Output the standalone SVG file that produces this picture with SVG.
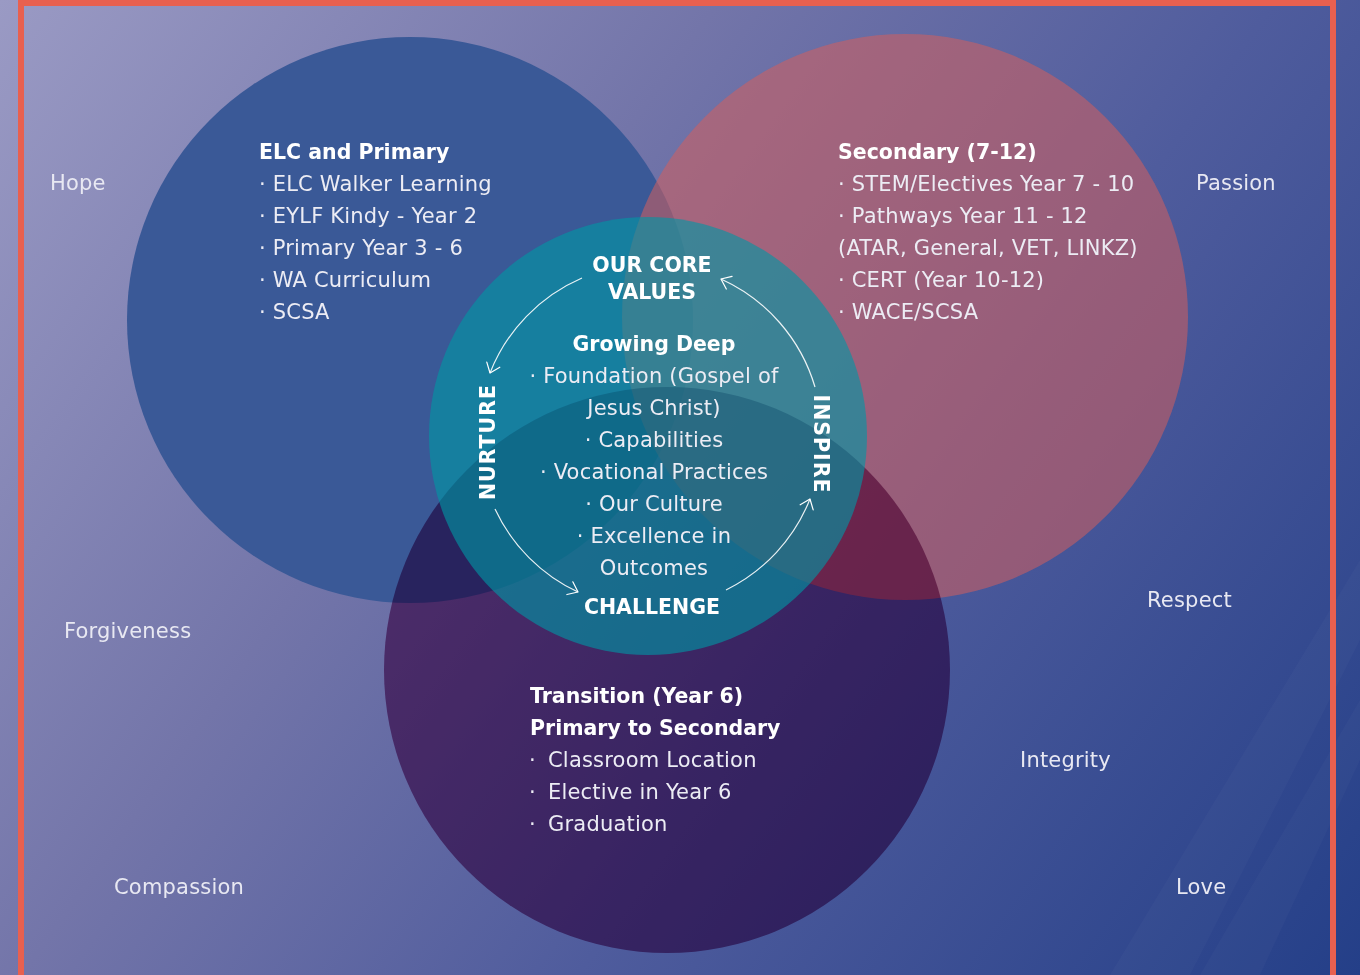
<svg xmlns="http://www.w3.org/2000/svg" width="1360" height="975" viewBox="0 0 1360 975">
  <defs>
    <linearGradient id="bg" gradientUnits="userSpaceOnUse" x1="0" y1="0" x2="1360" y2="975">
      <stop offset="0" stop-color="#9a9ac4"/>
      <stop offset="0.35" stop-color="#7375a9"/>
      <stop offset="0.62" stop-color="#4f5c9d"/>
      <stop offset="1" stop-color="#243f88"/>
    </linearGradient>
    <marker id="arrow" markerUnits="userSpaceOnUse" markerWidth="20" markerHeight="20" refX="0" refY="0" orient="auto" overflow="visible">
      <path d="M-9,-7 L0,0 L-9,7" fill="none" stroke="#ffffff" stroke-width="1.2" stroke-linecap="round" stroke-linejoin="round"/>
    </marker>
    <style>
      text { font-family: "DejaVu Sans", "Liberation Sans", sans-serif; font-size: 21px; letter-spacing: 0.2px; }
      .reg { fill: #ececf4; }
      .bold { fill: #ffffff; font-weight: bold; font-size: 20.5px; letter-spacing: 0px; }
      .mid { text-anchor: middle; }
      .value { fill: #e8e8f2; }
      .conn { fill: none; stroke: #ffffff; stroke-width: 1.2; stroke-opacity: 0.9; marker-end: url(#arrow); }
      .streak { fill: #ffffff; fill-opacity: 0.025; }
    </style>
  </defs>

  <rect id="background" x="0" y="0" width="1360" height="975" fill="url(#bg)"/>
  <polygon class="streak" points="1360,560 1360,640 1190,975 1110,975"/>
  <polygon class="streak" points="1360,700 1360,760 1260,975 1200,975"/>
  <rect id="frame" x="21" y="3" width="1312" height="1000" fill="none" stroke="#e8604f" stroke-width="6"/>

  <g id="elc-primary">
    <circle cx="410" cy="320" r="283" fill="#3a5997"/>
  </g>
  <g id="secondary">
    <circle cx="905" cy="317" r="283" fill="#d35f5c" fill-opacity="0.55"/>
  </g>
  <g id="transition">
    <circle cx="667" cy="670" r="283" fill="#b0629f" style="mix-blend-mode:multiply"/>
  </g>
  <g id="core-values">
    <circle cx="648" cy="436" r="219" fill="#0096a5" fill-opacity="0.62"/>
  </g>

  <g id="elc-primary-text">
    <text class="bold" x="259" y="159">ELC and Primary</text>
    <text class="reg" x="259" y="191">· ELC Walker Learning</text>
    <text class="reg" x="259" y="223">· EYLF Kindy - Year 2</text>
    <text class="reg" x="259" y="255">· Primary Year 3 - 6</text>
    <text class="reg" x="259" y="287">· WA Curriculum</text>
    <text class="reg" x="259" y="319">· SCSA</text>
  </g>

  <g id="secondary-text">
    <text class="bold" x="838" y="159">Secondary (7-12)</text>
    <text class="reg" x="838" y="191">· STEM/Electives Year 7 - 10</text>
    <text class="reg" x="838" y="223">· Pathways Year 11 - 12</text>
    <text class="reg" x="838" y="255">(ATAR, General, VET, LINKZ)</text>
    <text class="reg" x="838" y="287">· CERT (Year 10-12)</text>
    <text class="reg" x="838" y="319">· WACE/SCSA</text>
  </g>

  <g id="transition-text">
    <text class="bold" x="530" y="703">Transition (Year 6)</text>
    <text class="bold" x="530" y="735">Primary to Secondary</text>
    <text class="reg" x="529" y="767">·<tspan x="548">Classroom Location</tspan></text>
    <text class="reg" x="529" y="799">·<tspan x="548">Elective in Year 6</tspan></text>
    <text class="reg" x="529" y="831">·<tspan x="548">Graduation</tspan></text>
  </g>

  <g id="core-values-text">
    <text class="bold mid" x="652" y="272">OUR CORE</text>
    <text class="bold mid" x="652" y="299">VALUES</text>
    <text class="bold mid" x="654" y="351">Growing Deep</text>
    <text class="reg mid" x="654" y="383">· Foundation (Gospel of</text>
    <text class="reg mid" x="654" y="415">Jesus Christ)</text>
    <text class="reg mid" x="654" y="447">· Capabilities</text>
    <text class="reg mid" x="654" y="479">· Vocational Practices</text>
    <text class="reg mid" x="654" y="511">· Our Culture</text>
    <text class="reg mid" x="654" y="543">· Excellence in</text>
    <text class="reg mid" x="654" y="575">Outcomes</text>
    <text class="bold mid" x="652" y="614">CHALLENGE</text>
    <text class="bold mid" transform="translate(495,442) rotate(-90)" x="0" y="0" style="letter-spacing:1px">NURTURE</text>
    <text class="bold mid" transform="translate(814,444) rotate(90)" x="0" y="0" style="letter-spacing:1px">INSPIRE</text>
  </g>

  <g id="connectors">
    <path class="conn" d="M582,278 A172,172 0 0 0 490,373"/>
    <path class="conn" d="M495,509 A172,172 0 0 0 578,592"/>
    <path class="conn" d="M726,590 A172,172 0 0 0 810,499"/>
    <path class="conn" d="M815,387 A172,172 0 0 0 721,279"/>
  </g>

  <g id="values">
    <text class="value" x="50" y="190">Hope</text>
    <text class="value" x="1196" y="190">Passion</text>
    <text class="value" x="64" y="638">Forgiveness</text>
    <text class="value" x="1147" y="607">Respect</text>
    <text class="value" x="1020" y="767">Integrity</text>
    <text class="value" x="114" y="894">Compassion</text>
    <text class="value" x="1176" y="894">Love</text>
  </g>
</svg>
